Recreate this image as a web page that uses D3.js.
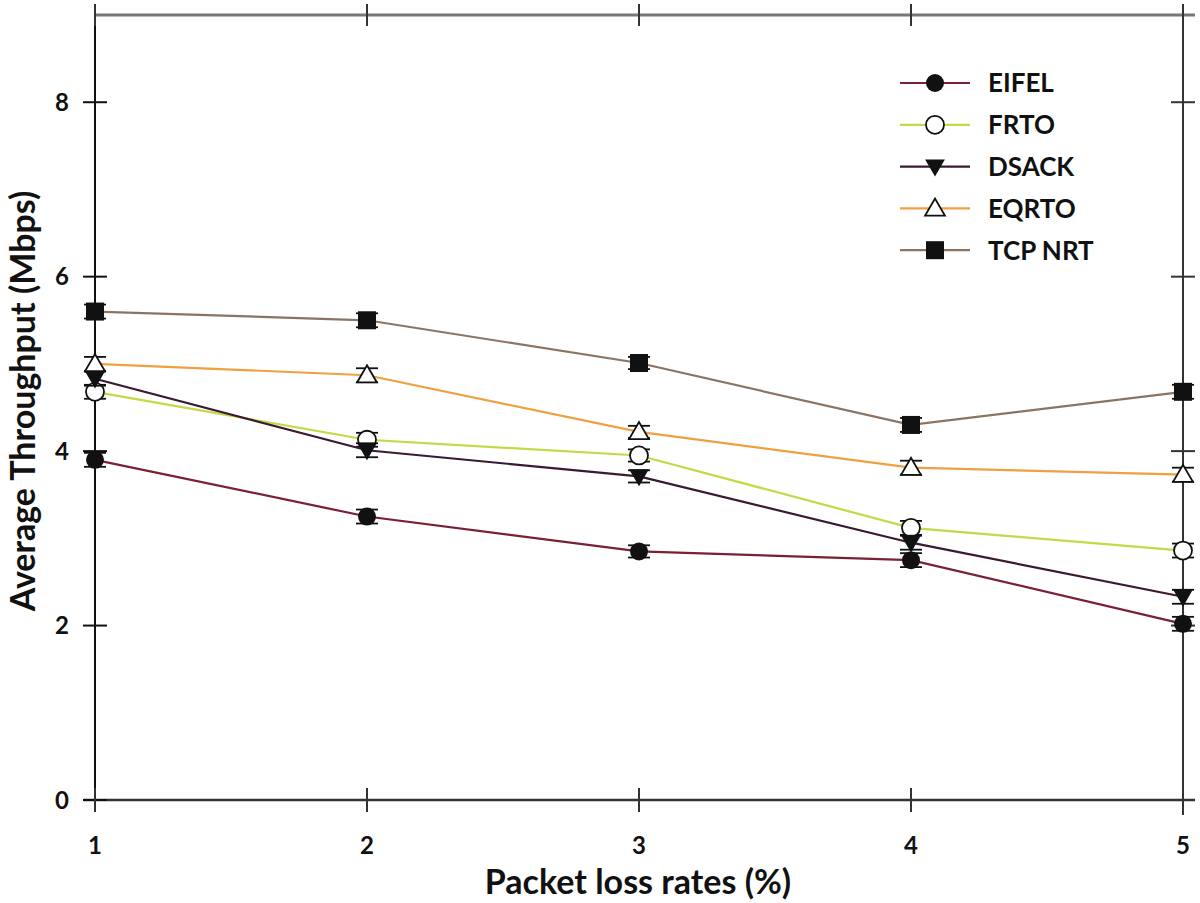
<!DOCTYPE html>
<html><head><meta charset="utf-8">
<script src="https://cdn.jsdelivr.net/npm/d3@7"></script>
<style>body{margin:0;background:#fff}svg{display:block}text{font-family:Lato,"Open Sans",sans-serif;font-weight:700;fill:#111}</style>
</head><body><svg id="c" width="1200" height="903"></svg>
<script>
const lossRates = [1, 2, 3, 4, 5];
const seriesNames = ["EIFEL", "FRTO", "DSACK", "EQRTO", "TCP NRT"];
const eifel = [3.90, 3.25, 2.85, 2.75, 2.02];
const frto = [4.68, 4.13, 3.95, 3.12, 2.86];
const dsack = [4.83, 4.01, 3.71, 2.95, 2.33];
const eqrto = [5.00, 4.87, 4.22, 3.81, 3.73];
const tcpnrt = [5.60, 5.50, 5.01, 4.30, 4.68];
const errBars = [0.08, 0.08, 0.07, 0.08, 0.08];
const yTicks = [0, 2, 4, 6, 8];
const xTicks = [1, 2, 3, 4, 5];

const colors = ["#7a2035", "#c5d845", "#3a1a33", "#f0a040", "#8a7565"];
const symbols = ["dot", "circle", "tdown", "tup", "square"];
const data = [eifel, frto, dsack, eqrto, tcpnrt];

const svg = d3.select("#c");
const x = d3.scaleLinear().domain([1, 5]).range([95, 1183]);
const y = d3.scaleLinear().domain([0, 9]).range([800, 15]);

const g = svg.append("g");
g.append("line").attr("x1", 95).attr("x2", 1195).attr("y1", y(9)).attr("y2", y(9)).attr("stroke", "#777").attr("stroke-width", 3);
g.append("line").attr("x1", 84).attr("x2", 1195).attr("y1", y(0)).attr("y2", y(0)).attr("stroke", "#333").attr("stroke-width", 2.5);
g.append("line").attr("x1", x(1)).attr("x2", x(1)).attr("y1", 4).attr("y2", 812).attr("stroke", "#111").attr("stroke-width", 2);
g.append("line").attr("x1", x(5)).attr("x2", x(5)).attr("y1", 4).attr("y2", 815).attr("stroke", "#333").attr("stroke-width", 2);

yTicks.forEach(v => {
  g.append("line").attr("x1", x(1) - 12).attr("x2", x(1) + 12).attr("y1", y(v)).attr("y2", y(v)).attr("stroke", "#111").attr("stroke-width", 2);
  g.append("line").attr("x1", x(5) - 12).attr("x2", x(5) + 12).attr("y1", y(v)).attr("y2", y(v)).attr("stroke", "#333").attr("stroke-width", 2);
  g.append("text").attr("x", 62).attr("y", y(v)).attr("dy", "0.36em").attr("text-anchor", "middle").attr("font-size", 24).text(v);
});
xTicks.forEach(v => {
  g.append("line").attr("x1", x(v)).attr("x2", x(v)).attr("y1", y(0) - 12).attr("y2", y(0) + 12).attr("stroke", "#333").attr("stroke-width", 2);
  g.append("line").attr("x1", x(v)).attr("x2", x(v)).attr("y1", y(9) - 11).attr("y2", y(9) + 11).attr("stroke", "#333").attr("stroke-width", 2);
  g.append("text").attr("x", x(v)).attr("y", 845).attr("dy", "0.36em").attr("text-anchor", "middle").attr("font-size", 24).text(v);
});

g.append("text").attr("x", 638).attr("y", 894).attr("text-anchor", "middle").attr("font-size", 34).text("Packet loss rates (%)");
g.append("text").attr("transform", "translate(35,401) rotate(-90)").attr("text-anchor", "middle").attr("font-size", 34).text("Average Throughput (Mbps)");

function marker(sel, type, cx, cy, r) {
  if (type === "dot") sel.append("circle").attr("cx", cx).attr("cy", cy).attr("r", r).attr("fill", "#111");
  else if (type === "circle") sel.append("circle").attr("cx", cx).attr("cy", cy).attr("r", r).attr("fill", "#fff").attr("stroke", "#111").attr("stroke-width", 1.8);
  else if (type === "square") sel.append("rect").attr("x", cx - r).attr("y", cy - r).attr("width", 2 * r).attr("height", 2 * r).attr("fill", "#111");
  else if (type === "tdown") sel.append("path").attr("d", `M${cx - r * 1.1},${cy - r * 0.8}L${cx + r * 1.1},${cy - r * 0.8}L${cx},${cy + r * 1.1}Z`).attr("fill", "#111");
  else if (type === "tup") sel.append("path").attr("d", `M${cx - r * 1.1},${cy + r * 0.8}L${cx + r * 1.1},${cy + r * 0.8}L${cx},${cy - r * 1.1}Z`).attr("fill", "#fff").attr("stroke", "#111").attr("stroke-width", 1.8);
}

const line = d3.line().x((d, i) => x(lossRates[i])).y(d => y(d));
data.forEach((vals, s) => {
  const sg = svg.append("g");
  sg.append("path").datum(vals).attr("d", line).attr("fill", "none").attr("stroke", colors[s]).attr("stroke-width", 2.2);
  vals.forEach((v, i) => {
    const cx = x(lossRates[i]);
    const e = errBars[i];
    sg.append("line").attr("x1", cx).attr("x2", cx).attr("y1", y(v + e)).attr("y2", y(v - e)).attr("stroke", "#111").attr("stroke-width", 1.5);
    [v + e, v - e].forEach(c => sg.append("line").attr("x1", cx - 11).attr("x2", cx + 11).attr("y1", y(c)).attr("y2", y(c)).attr("stroke", "#111").attr("stroke-width", 1.8));
    marker(sg, symbols[s], cx, y(v), 9);
  });
});

const lg = svg.append("g");
seriesNames.forEach((n, i) => {
  const ly = 83 + i * 41.8;
  lg.append("line").attr("x1", 900).attr("x2", 970).attr("y1", ly).attr("y2", ly).attr("stroke", colors[i]).attr("stroke-width", 2.2);
  marker(lg, symbols[i], 935, ly, 9);
  lg.append("text").attr("x", 988).attr("y", ly).attr("dy", "0.36em").attr("font-size", 26).text(n);
});
</script></body></html>
